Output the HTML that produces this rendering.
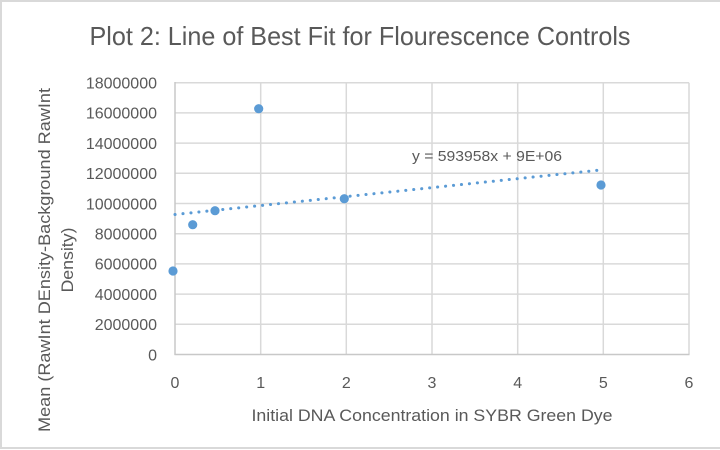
<!DOCTYPE html>
<html><head><meta charset="utf-8"><style>
html,body{margin:0;padding:0;background:#fff;}
svg{display:block;}
text{font-family:"Liberation Sans",sans-serif;fill:#595959;}
</style></head><body>
<svg width="720" height="450" viewBox="0 0 720 450" xmlns="http://www.w3.org/2000/svg">
<rect x="0" y="0" width="720" height="450" fill="#fff"/>
<line x1="0" y1="1" x2="720" y2="1" stroke="#d9d9d9" stroke-width="2"/>
<line x1="1" y1="0" x2="1" y2="449" stroke="#d9d9d9" stroke-width="2"/>
<line x1="0" y1="448" x2="720" y2="448" stroke="#d9d9d9" stroke-width="2"/>
<text x="360" y="45" font-size="26" text-anchor="middle" textLength="541" lengthAdjust="spacingAndGlyphs">Plot 2: Line of Best Fit for Flourescence Controls</text>
<g stroke="#d9d9d9" stroke-width="1.5">
<line x1="175" y1="82.7" x2="689" y2="82.7"/>
<line x1="175" y1="112.9" x2="689" y2="112.9"/>
<line x1="175" y1="143.1" x2="689" y2="143.1"/>
<line x1="175" y1="173.3" x2="689" y2="173.3"/>
<line x1="175" y1="203.5" x2="689" y2="203.5"/>
<line x1="175" y1="233.7" x2="689" y2="233.7"/>
<line x1="175" y1="263.9" x2="689" y2="263.9"/>
<line x1="175" y1="294.1" x2="689" y2="294.1"/>
<line x1="175" y1="324.3" x2="689" y2="324.3"/>
<line x1="260.7" y1="82.7" x2="260.7" y2="354.5"/>
<line x1="346.3" y1="82.7" x2="346.3" y2="354.5"/>
<line x1="432" y1="82.7" x2="432" y2="354.5"/>
<line x1="517.7" y1="82.7" x2="517.7" y2="354.5"/>
<line x1="603.3" y1="82.7" x2="603.3" y2="354.5"/>
<line x1="689" y1="82.7" x2="689" y2="354.5"/>
</g>
<g stroke="#c8c8c8" stroke-width="1.5">
<line x1="175" y1="82" x2="175" y2="355"/>
<line x1="174.5" y1="354.5" x2="689.5" y2="354.5"/>
</g>
<g font-size="16" text-anchor="end">
<text x="157" y="88.5">18000000</text>
<text x="157" y="118.7">16000000</text>
<text x="157" y="148.9">14000000</text>
<text x="157" y="179.1">12000000</text>
<text x="157" y="209.3">10000000</text>
<text x="157" y="239.5">8000000</text>
<text x="157" y="269.7">6000000</text>
<text x="157" y="299.9">4000000</text>
<text x="157" y="330.1">2000000</text>
<text x="157" y="360.3">0</text>
</g>
<g font-size="16" text-anchor="middle">
<text x="175" y="388">0</text>
<text x="260.7" y="388">1</text>
<text x="346.3" y="388">2</text>
<text x="432" y="388">3</text>
<text x="517.7" y="388">4</text>
<text x="603.3" y="388">5</text>
<text x="689" y="388">6</text>
</g>
<text x="432" y="421" font-size="17" text-anchor="middle" textLength="361" lengthAdjust="spacingAndGlyphs">Initial DNA Concentration in SYBR Green Dye</text>
<text transform="translate(50,260) rotate(-90)" font-size="17" text-anchor="middle" textLength="344" lengthAdjust="spacingAndGlyphs">Mean (RawInt DEnsity-Background RawInt</text>
<text transform="translate(73,260) rotate(-90)" font-size="17" text-anchor="middle" textLength="65" lengthAdjust="spacingAndGlyphs">Density)</text>
<line x1="175" y1="214.5" x2="603.3" y2="169.7" stroke="#5b9bd5" stroke-width="3" stroke-linecap="round" stroke-dasharray="0.1 7.9"/>
<g fill="#5b9bd5">
<circle cx="173" cy="271" r="4.6"/>
<circle cx="192.7" cy="224.7" r="4.6"/>
<circle cx="215" cy="210.7" r="4.6"/>
<circle cx="258.7" cy="108.7" r="4.6"/>
<circle cx="344.3" cy="198.7" r="4.6"/>
<circle cx="601" cy="185" r="4.6"/>
</g>
<text x="412" y="161" font-size="15" textLength="150" lengthAdjust="spacingAndGlyphs">y = 593958x + 9E+06</text>
</svg>
</body></html>
